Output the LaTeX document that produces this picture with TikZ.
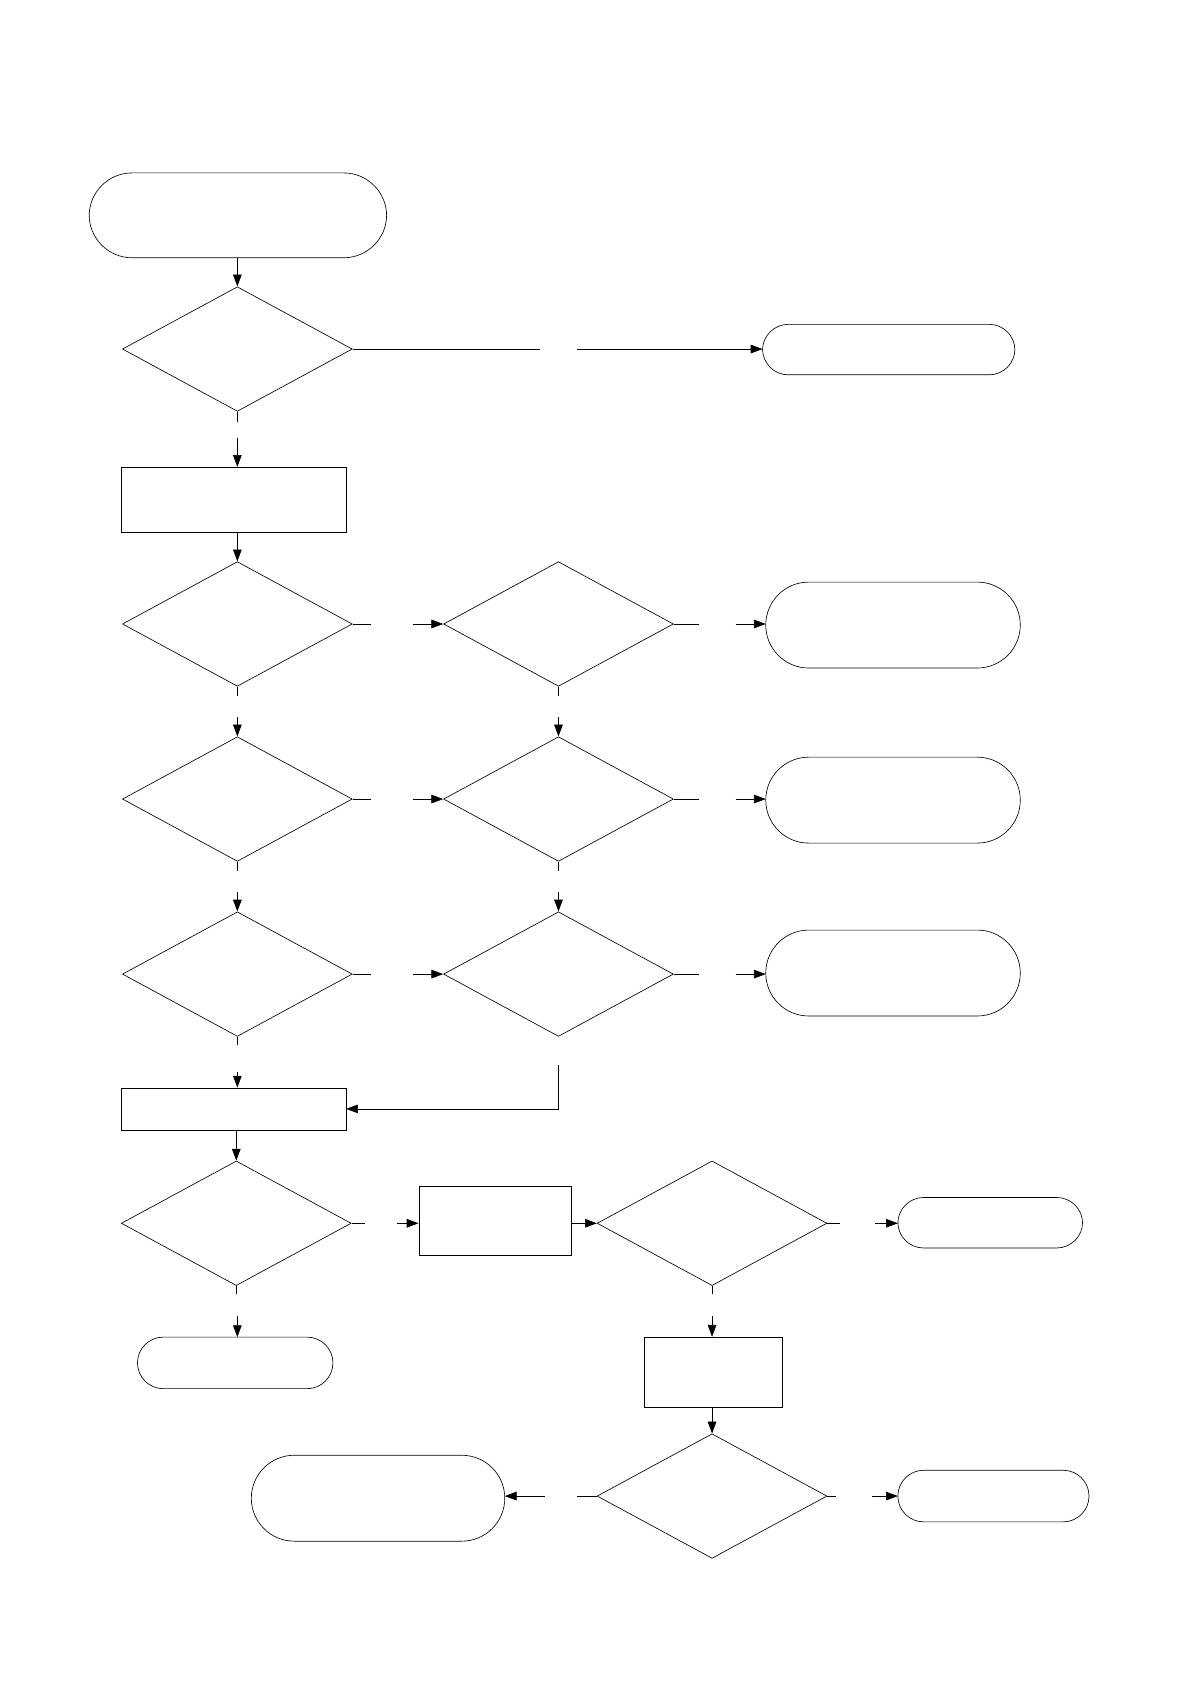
\documentclass[tikz,border=0pt]{standalone}
\usetikzlibrary{shapes.geometric,arrows.meta,calc}
\begin{document}
\begin{tikzpicture}[x=1pt,y=-1pt,line width=0.6pt,
 term/.style={draw,rounded corners=#1},
 dec/.style={draw,diamond,aspect=1.84,minimum width=214pt,minimum height=116pt,inner sep=0pt},
 box/.style={draw},
 arr/.style={-{Triangle[length=11pt,width=8pt]}}]
\useasboundingbox (0,0) rectangle (1108,1568);
% terminals
\draw[term=40] (83,161) rectangle (360,240); \coordinate (S) at (221,240);
\draw[term=24] (710,302) rectangle (945,349); \coordinate (T1) at (710,325);
\draw[term=40] (713,542) rectangle (950,622); \coordinate (T2) at (713,581);
\draw[term=40] (713,705) rectangle (950,785); \coordinate (T3) at (713,744);
\draw[term=40] (713,866) rectangle (950,946); \coordinate (T4) at (713,907);
\draw[term=24] (836,1115) rectangle (1008,1162); \coordinate (T5) at (836,1139);
\draw[term=24] (128,1245) rectangle (310,1293); \coordinate (T6) at (221,1245);
\draw[term=40] (234,1355) rectangle (470,1435); \coordinate (T7) at (470,1393);
\draw[term=24] (836,1369) rectangle (1014,1417); \coordinate (T8) at (836,1393);
% boxes
\node[box,minimum width=209pt,minimum height=61pt] (B1) at (217.5,465.5) {};
\node[box,minimum width=209pt,minimum height=39pt] (B2) at (217.5,1032.5) {};
\node[box,minimum width=142pt,minimum height=64pt] (B3) at (461,1137) {};
\node[box,minimum width=128pt,minimum height=65pt] (B4) at (664,1277.5) {};
% decisions
\node[dec] (D1) at (221,325) {};
\node[dec] (D2) at (221,581) {};
\node[dec] (D3) at (520,581) {};
\node[dec] (D4) at (221,744) {};
\node[dec] (D5) at (520,744) {};
\node[dec] (D6) at (221,907) {};
\node[dec] (D7) at (520,907) {};
\node[dec] (D8) at (220,1139) {};
\node[dec] (D9) at (663,1139) {};
\node[dec] (D10) at (663,1393) {};
% connectors
\draw[arr] (S) -- (D1.north);
\draw (D1.east) -- (503,325); \draw[arr] (537,325) -- (T1);
\draw (D1.south) -- (221,393); \draw[arr] (221,408) -- (B1.north -| D1);
\draw[arr] (B1.south -| D2) -- (D2.north);
\foreach \a/\b/\t in {D2/D3/T2,D4/D5/T3,D6/D7/T4}{
 \draw (\a.east) -- ++(17,0); \draw[arr] ($(\b.west)+(-28,0)$) -- (\b.west);
 \draw (\b.east) -- ++(24,0); \draw[arr] ($(\t)+(-28,0)$) -- (\t);}
\foreach \a/\b in {D2/D4,D3/D5,D4/D6,D5/D7}{
 \draw (\a.south) -- ++(0,9); \draw[arr] ($(\b.north)+(0,-18)$) -- (\b.north);}
\draw (D6.south) -- ++(0,8); \draw[arr] (221,998) -- (B2.north -| D6);
\draw[arr] (520,992) |- (B2.east);
\draw[arr] (B2.south -| D8) -- (D8.north);
\draw (D8.east) -- ++(13,0); \draw[arr] (370,1139) -- (B3.west |- D8);
\draw[arr] (B3.east |- D9) -- (D9.west);
\draw (D9.east) -- ++(12,0); \draw[arr] (815,1139) -- (T5);
\draw (D8.south) -- ++(0,8); \draw[arr] (221,1225) -- (T6);
\draw (D9.south) -- ++(0,8); \draw[arr] (663,1225) -- (B4.north -| D9);
\draw[arr] (B4.south -| D10) -- (D10.north);
\draw (D10.west) -- ++(-18,0); \draw[arr] (507,1393) -- (T7);
\draw (D10.east) -- ++(8,0); \draw[arr] (812,1393) -- (T8);
\end{tikzpicture}
\end{document}
